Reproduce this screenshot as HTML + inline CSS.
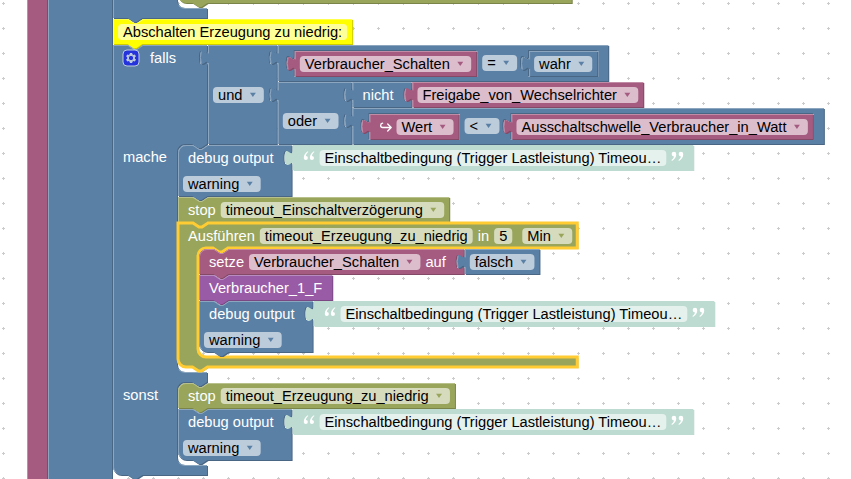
<!DOCTYPE html><html><head><meta charset="utf-8"><style>html,body{margin:0;padding:0;background:#fff;overflow:hidden}svg{display:block}</style></head><body>
<svg width="851" height="479" viewBox="0 0 851 479">
<defs><pattern id="grid" patternUnits="userSpaceOnUse" width="25" height="25" x="-9" y="-9"><line x1="11" y1="12.5" x2="14" y2="12.5" stroke="#ccc" stroke-width="1"/><line x1="12.5" y1="11" x2="12.5" y2="14" stroke="#ccc" stroke-width="1"/></pattern></defs>
<rect width="851" height="479" fill="#fff"/><rect width="851" height="479" fill="url(#grid)"/>
<rect x="27" y="-10" width="21" height="500" fill="#a55b80"/>
<rect x="47" y="-10" width="1" height="500" fill="#844966"/>
<rect x="27" y="-10" width="1" height="500" fill="#c08ca6"/>
<rect x="48" y="-10" width="65" height="500" fill="#5b80a5"/>
<rect x="112" y="-10" width="1" height="500" fill="#496684"/>
<rect x="48" y="-10" width="1" height="500" fill="#8ca6c0"/>
<g transform="translate(113,8)">
<path d="M0,-80 H64 V-8 a 8,8 0 0,0 8,8 H94 V10 H29.5 l -6,4 -3,0 -6,-4 H0 Z" fill="#496684" transform="translate(1,1)"/>
<path d="M0,-80 H64 V-8 a 8,8 0 0,0 8,8 H94 V10 H29.5 l -6,4 -3,0 -6,-4 H0 Z" fill="#5b80a5"/>
<path d="M 0.5,-80 V 9.5 M 65.99,-1.99 a 8.5,8.5 0 0,0 6.0104,2.4896 H 93.5" fill="none" stroke="#8ca6c0" stroke-linecap="round"/>
<g transform="translate(65,-5)">
<path d="M0,-60 H393.7 V0 H29.5 l -6,4 -3,0 -6,-4 H8 a 8,8 0 0,1 -8,-8 Z" fill="#7a8449" transform="translate(1,1)"/>
<path d="M0,-60 H393.7 V0 H29.5 l -6,4 -3,0 -6,-4 H8 a 8,8 0 0,1 -8,-8 Z" fill="#99a55b"/>
<path d="M 2.697,-2.697 A 7.5,7.5 0 0,1 0.5,-8 V -60" fill="none" stroke="#b8c08c" stroke-linecap="round"/>
</g>
<g transform="translate(0,11)">
<path d="m 0,0 H 15 l 6,4 3,0 6,-4 H 239.172 v 25 H 29.5 l -6,4 -3,0 -6,-4 H 0 z " fill="#cccc00" transform="translate(1,1)"/>
<path d="m 0,0 H 15 l 6,4 3,0 6,-4 H 239.172 v 25 H 29.5 l -6,4 -3,0 -6,-4 H 0 z " fill="#ffff00"/>
<path d="m 0.5,0.5 H 15 l 6,4 3,0 6,-4 H 238.672 M 238.672,0.5 M 0.5,24.5 V 0.5 " fill="none" stroke="#ffff4c" stroke-width="1" stroke-linecap="round"/>
<g transform="translate(10,5)"><rect x="-5" y="0" rx="4" ry="4" width="229.172" height="16" fill="#fff" fill-opacity="0.6"/><text x="0" y="0" transform="translate(0,12.5) scale(1,1)" fill="#000" style="font-family:'Liberation Sans',sans-serif;font-size:14.6667px">Abschalten Erzeugung zu niedrig:</text></g>
<g transform="translate(0,26)">
<path d="m 0,0 H 15 l 6,4 3,0 6,-4 H 94 v 5 c 0,10 -8,-8 -8,7.5 s 8,-2.5 8,7.5 v 79 H 94 l -6,4 -3,0 -6,-4 h -7 a 8,8 0 0,0 -8,8 v 212 a 8,8 0 0,0 8,8 H 94 v 10 H 94 l -6,4 -3,0 -6,-4 h -7 a 8,8 0 0,0 -8,8 v 67 a 8,8 0 0,0 8,8 H 94 v 10 H 29.5 l -6,4 -3,0 -6,-4 H 8 a 8,8 0 0,1 -8,-8 z " fill="#496684" transform="translate(1,1)"/>
<path d="m 0,0 H 15 l 6,4 3,0 6,-4 H 94 v 5 c 0,10 -8,-8 -8,7.5 s 8,-2.5 8,7.5 v 79 H 94 l -6,4 -3,0 -6,-4 h -7 a 8,8 0 0,0 -8,8 v 212 a 8,8 0 0,0 8,8 H 94 v 10 H 94 l -6,4 -3,0 -6,-4 h -7 a 8,8 0 0,0 -8,8 v 67 a 8,8 0 0,0 8,8 H 94 v 10 H 29.5 l -6,4 -3,0 -6,-4 H 8 a 8,8 0 0,1 -8,-8 z " fill="#5b80a5"/>
<path d="m 0.5,0.5 H 15 l 6,4 3,0 6,-4 H 93.5 M 93.5,0.5 M 89,19.3 l 3.68,-2.1 M 93.5,99.5 M 65.99,325.01 a 8.5,8.5 0 0,0 6.0104,2.4896 H 93.5 M 93.5,337.5 M 65.99,418.01 a 8.5,8.5 0 0,0 6.0104,2.4896 H 93.5 M 2.697,427.303 A 7.5,7.5 0 0,1 0.5,422 V 0.5 " fill="none" stroke="#8ca6c0" stroke-width="1" stroke-linecap="round"/>
<g transform="translate(10,5)" opacity="0.6"><rect rx="4" ry="4" width="16" height="16" fill="#00f" stroke="#fff" stroke-width="1"/><path fill="#fff" d="m4.203,7.296 0,1.368 -0.92,0.677 -0.11,0.41 0.9,1.559 0.41,0.11 1.043,-0.457 1.187,0.683 0.127,1.134 0.3,0.3 1.8,0 0.3,-0.299 0.127,-1.138 1.185,-0.682 1.046,0.458 0.409,-0.11 0.9,-1.559 -0.11,-0.41 -0.92,-0.677 0,-1.366 0.92,-0.677 0.11,-0.41 -0.9,-1.559 -0.409,-0.109 -1.046,0.458 -1.185,-0.682 -0.127,-1.138 -0.3,-0.299 -1.8,0 -0.3,0.3 -0.126,1.135 -1.187,0.682 -1.043,-0.457 -0.41,0.11 -0.899,1.559 0.108,0.409z"/><circle r="2.7" cx="8" cy="8" fill="#00f" stroke="#fff" stroke-width="1"/></g>
<g transform="translate(37,5)"><text x="0" y="0" transform="translate(0,12.5) scale(1,1)" fill="#fff" style="font-family:'Liberation Sans',sans-serif;font-size:14.6667px">falls</text></g>
<g transform="translate(10,104)"><text x="0" y="0" transform="translate(0,12.5) scale(1,1)" fill="#fff" style="font-family:'Liberation Sans',sans-serif;font-size:14.6667px">mache</text></g>
<g transform="translate(10,342)"><text x="0" y="0" transform="translate(0,12.5) scale(1,1)" fill="#fff" style="font-family:'Liberation Sans',sans-serif;font-size:14.6667px">sonst</text></g>
<g transform="translate(95,0)">
<path d="m 0,0 H 68.819 v 5 c 0,10 -8,-8 -8,7.5 s 8,-2.5 8,7.5 v 17 v 5 c 0,10 -8,-8 -8,7.5 s 8,-2.5 8,7.5 v 42 H 0 V 20 c 0,-10 -8,8 -8,-7.5 s 8,2.5 8,-7.5 z " fill="#496684" transform="translate(1,1)"/>
<path d="m 0,0 H 68.819 v 5 c 0,10 -8,-8 -8,7.5 s 8,-2.5 8,7.5 v 17 v 5 c 0,10 -8,-8 -8,7.5 s 8,-2.5 8,7.5 v 42 H 0 V 20 c 0,-10 -8,8 -8,-7.5 s 8,2.5 8,-7.5 z " fill="#5b80a5"/>
<path d="m 0.5,0.5 H 68.319 M 68.319,0.5 M 63.819,19.3 l 3.68,-2.1 M 68.319,37.5 M 63.819,56.3 l 3.68,-2.1 M 0.5,98.5 V 18.5 m -7.36,-0.5 q -1.52,-5.5 0,-11 m 7.36,1 V 0.5 H 1 " fill="none" stroke="#8ca6c0" stroke-width="1" stroke-linecap="round"/>
<g transform="translate(10,42)"><rect x="-5" y="0" rx="4" ry="4" width="50.819" height="16" fill="#fff" fill-opacity="0.6"/><text x="0" y="0" transform="translate(0,12.5) scale(1,1)" fill="#000" style="font-family:'Liberation Sans',sans-serif;font-size:14.6667px">und</text><path d="M31.947,5.8 h5.9 l-2.95,4.3 z" fill="#5b80a5"/></g>
<g transform="translate(69.819,0)">
<path d="m 0,0 H 20 H 330.425 v 36 H 0 V 20 c 0,-10 -8,8 -8,-7.5 s 8,2.5 8,-7.5 z M 199.381,5 h -183.381 v 5 c 0,10 -8,-8 -8,7.5 s 8,-2.5 8,7.5 v 7 h 183.381 z M 320.425,5 h -70.131 v 5 c 0,10 -8,-8 -8,7.5 s 8,-2.5 8,7.5 v 7 h 70.131 z" fill="#496684" transform="translate(1,1)"/>
<path d="m 0,0 H 20 H 330.425 v 36 H 0 V 20 c 0,-10 -8,8 -8,-7.5 s 8,2.5 8,-7.5 z M 199.381,5 h -183.381 v 5 c 0,10 -8,-8 -8,7.5 s 8,-2.5 8,7.5 v 7 h 183.381 z M 320.425,5 h -70.131 v 5 c 0,10 -8,-8 -8,7.5 s 8,-2.5 8,7.5 v 7 h 70.131 z" fill="#5b80a5"/>
<path d="m 0.5,0.5 H 19.5 M 19.5,0.5 H 329.925 M 0.5,35.5 V 18.5 m -7.36,-0.5 q -1.52,-5.5 0,-11 m 7.36,1 V 0.5 H 1 M 198.881,6 V 31.5 H 16.5 M 319.925,6 V 31.5 H 250.794" fill="none" stroke="#8ca6c0" stroke-width="1" stroke-linecap="round"/>
<g transform="translate(209.381,10)"><rect x="-5" y="0" rx="4" ry="4" width="34.913" height="16" fill="#fff" fill-opacity="0.6"/><text x="0" y="0" transform="translate(0,12.5) scale(1,1)" fill="#000" style="font-family:'Liberation Sans',sans-serif;font-size:14.6667px">=</text><path d="M16.041,5.8 h5.9 l-2.95,4.3 z" fill="#5b80a5"/></g>
<g transform="translate(17,6)">
<path d="m 0,0 H 181.381 v 25 H 0 V 20 c 0,-10 -8,8 -8,-7.5 s 8,2.5 8,-7.5 z " fill="#844966" transform="translate(1,1)"/>
<path d="m 0,0 H 181.381 v 25 H 0 V 20 c 0,-10 -8,8 -8,-7.5 s 8,2.5 8,-7.5 z " fill="#a55b80"/>
<path d="m 0.5,0.5 H 180.881 M 180.881,0.5 M 0.5,24.5 V 18.5 m -7.36,-0.5 q -1.52,-5.5 0,-11 m 7.36,1 V 0.5 H 1 " fill="none" stroke="#c08ca6" stroke-width="1" stroke-linecap="round"/>
<g transform="translate(10,5)"><rect x="-5" y="0" rx="4" ry="4" width="171.381" height="16" fill="#fff" fill-opacity="0.6"/><text x="0" y="0" transform="translate(0,12.5) scale(1,1)" fill="#000" style="font-family:'Liberation Sans',sans-serif;font-size:14.6667px">Verbraucher_Schalten</text><path d="M152.509,5.8 h5.9 l-2.95,4.3 z" fill="#a55b80"/></g>
</g>
<g transform="translate(251.294,6)">
<path d="m 0,0 H 68.131 v 25 H 0 V 20 c 0,-10 -8,8 -8,-7.5 s 8,2.5 8,-7.5 z " fill="#496684" transform="translate(1,1)"/>
<path d="m 0,0 H 68.131 v 25 H 0 V 20 c 0,-10 -8,8 -8,-7.5 s 8,2.5 8,-7.5 z " fill="#5b80a5"/>
<path d="m 0.5,0.5 H 67.631 M 67.631,0.5 M 0.5,24.5 V 18.5 m -7.36,-0.5 q -1.52,-5.5 0,-11 m 7.36,1 V 0.5 H 1 " fill="none" stroke="#8ca6c0" stroke-width="1" stroke-linecap="round"/>
<g transform="translate(10,5)"><rect x="-5" y="0" rx="4" ry="4" width="58.131" height="16" fill="#fff" fill-opacity="0.6"/><text x="0" y="0" transform="translate(0,12.5) scale(1,1)" fill="#000" style="font-family:'Liberation Sans',sans-serif;font-size:14.6667px">wahr</text><path d="M39.259,5.8 h5.9 l-2.95,4.3 z" fill="#5b80a5"/></g>
</g>
</g>
<g transform="translate(69.819,37)">
<path d="m 0,0 H 73.694 v 5 c 0,10 -8,-8 -8,7.5 s 8,-2.5 8,7.5 v 6 v 5 c 0,10 -8,-8 -8,7.5 s 8,-2.5 8,7.5 v 16 H 0 V 20 c 0,-10 -8,8 -8,-7.5 s 8,2.5 8,-7.5 z " fill="#496684" transform="translate(1,1)"/>
<path d="m 0,0 H 73.694 v 5 c 0,10 -8,-8 -8,7.5 s 8,-2.5 8,7.5 v 6 v 5 c 0,10 -8,-8 -8,7.5 s 8,-2.5 8,7.5 v 16 H 0 V 20 c 0,-10 -8,8 -8,-7.5 s 8,2.5 8,-7.5 z " fill="#5b80a5"/>
<path d="m 0.5,0.5 H 73.194 M 73.194,0.5 M 68.694,19.3 l 3.68,-2.1 M 73.194,26.5 M 68.694,45.3 l 3.68,-2.1 M 0.5,61.5 V 18.5 m -7.36,-0.5 q -1.52,-5.5 0,-11 m 7.36,1 V 0.5 H 1 " fill="none" stroke="#8ca6c0" stroke-width="1" stroke-linecap="round"/>
<g transform="translate(10,31)"><rect x="-5" y="0" rx="4" ry="4" width="55.694" height="16" fill="#fff" fill-opacity="0.6"/><text x="0" y="0" transform="translate(0,12.5) scale(1,1)" fill="#000" style="font-family:'Liberation Sans',sans-serif;font-size:14.6667px">oder</text><path d="M36.822,5.8 h5.9 l-2.95,4.3 z" fill="#5b80a5"/></g>
<g transform="translate(74.694,0)">
<path d="m 0,0 H 58.969 v 5 c 0,10 -8,-8 -8,7.5 s 8,-2.5 8,7.5 v 5 H 0 V 20 c 0,-10 -8,8 -8,-7.5 s 8,2.5 8,-7.5 z " fill="#496684" transform="translate(1,1)"/>
<path d="m 0,0 H 58.969 v 5 c 0,10 -8,-8 -8,7.5 s 8,-2.5 8,7.5 v 5 H 0 V 20 c 0,-10 -8,8 -8,-7.5 s 8,2.5 8,-7.5 z " fill="#5b80a5"/>
<path d="m 0.5,0.5 H 58.469 M 58.469,0.5 M 53.969,19.3 l 3.68,-2.1 M 0.5,24.5 V 18.5 m -7.36,-0.5 q -1.52,-5.5 0,-11 m 7.36,1 V 0.5 H 1 " fill="none" stroke="#8ca6c0" stroke-width="1" stroke-linecap="round"/>
<g transform="translate(10,5)"><text x="0" y="0" transform="translate(0,12.5) scale(1,1)" fill="#fff" style="font-family:'Liberation Sans',sans-serif;font-size:14.6667px">nicht</text></g>
<g transform="translate(59.969,0)">
<path d="m 0,0 H 230.787 v 25 H 0 V 20 c 0,-10 -8,8 -8,-7.5 s 8,2.5 8,-7.5 z " fill="#844966" transform="translate(1,1)"/>
<path d="m 0,0 H 230.787 v 25 H 0 V 20 c 0,-10 -8,8 -8,-7.5 s 8,2.5 8,-7.5 z " fill="#a55b80"/>
<path d="m 0.5,0.5 H 230.287 M 230.287,0.5 M 0.5,24.5 V 18.5 m -7.36,-0.5 q -1.52,-5.5 0,-11 m 7.36,1 V 0.5 H 1 " fill="none" stroke="#c08ca6" stroke-width="1" stroke-linecap="round"/>
<g transform="translate(10,5)"><rect x="-5" y="0" rx="4" ry="4" width="220.787" height="16" fill="#fff" fill-opacity="0.6"/><text x="0" y="0" transform="translate(0,12.5) scale(1,1)" fill="#000" style="font-family:'Liberation Sans',sans-serif;font-size:14.6667px">Freigabe_von_Wechselrichter</text><path d="M201.916,5.8 h5.9 l-2.95,4.3 z" fill="#a55b80"/></g>
</g>
</g>
<g transform="translate(74.694,26)">
<path d="m 0,0 H 20 H 471.347 v 36 H 0 V 20 c 0,-10 -8,8 -8,-7.5 s 8,2.5 8,-7.5 z M 107.037,5 h -91.037 v 5 c 0,10 -8,-8 -8,7.5 s 8,-2.5 8,7.5 v 7 h 91.037 z M 461.347,5 h -303.397 v 5 c 0,10 -8,-8 -8,7.5 s 8,-2.5 8,7.5 v 7 h 303.397 z" fill="#496684" transform="translate(1,1)"/>
<path d="m 0,0 H 20 H 471.347 v 36 H 0 V 20 c 0,-10 -8,8 -8,-7.5 s 8,2.5 8,-7.5 z M 107.037,5 h -91.037 v 5 c 0,10 -8,-8 -8,7.5 s 8,-2.5 8,7.5 v 7 h 91.037 z M 461.347,5 h -303.397 v 5 c 0,10 -8,-8 -8,7.5 s 8,-2.5 8,7.5 v 7 h 303.397 z" fill="#5b80a5"/>
<path d="m 0.5,0.5 H 19.5 M 19.5,0.5 H 470.847 M 0.5,35.5 V 18.5 m -7.36,-0.5 q -1.52,-5.5 0,-11 m 7.36,1 V 0.5 H 1 M 106.537,6 V 31.5 H 16.5 M 460.847,6 V 31.5 H 158.45" fill="none" stroke="#8ca6c0" stroke-width="1" stroke-linecap="round"/>
<g transform="translate(117.037,10)"><rect x="-5" y="0" rx="4" ry="4" width="34.913" height="16" fill="#fff" fill-opacity="0.6"/><text x="0" y="0" transform="translate(0,12.5) scale(1,1)" fill="#000" style="font-family:'Liberation Sans',sans-serif;font-size:14.6667px">&lt;</text><path d="M16.041,5.8 h5.9 l-2.95,4.3 z" fill="#5b80a5"/></g>
<g transform="translate(17,6)">
<path d="m 0,0 H 89.037 v 25 H 0 V 20 c 0,-10 -8,8 -8,-7.5 s 8,2.5 8,-7.5 z " fill="#844966" transform="translate(1,1)"/>
<path d="m 0,0 H 89.037 v 25 H 0 V 20 c 0,-10 -8,8 -8,-7.5 s 8,2.5 8,-7.5 z " fill="#a55b80"/>
<path d="m 0.5,0.5 H 88.537 M 88.537,0.5 M 0.5,24.5 V 18.5 m -7.36,-0.5 q -1.52,-5.5 0,-11 m 7.36,1 V 0.5 H 1 " fill="none" stroke="#c08ca6" stroke-width="1" stroke-linecap="round"/>
<g transform="translate(10,5)"><path d="M3.1,4.2 C0.5,4.5 0.5,8.5 3.1,8.5 H11.6 M8.2,5 L11.7,8.5 L8.2,12" fill="none" stroke="#fff" stroke-width="1.3" stroke-linecap="round" stroke-linejoin="round"/></g>
<g transform="translate(32,5)"><rect x="-5" y="0" rx="4" ry="4" width="57.038" height="16" fill="#fff" fill-opacity="0.6"/><text x="0" y="0" transform="translate(0,12.5) scale(1,1)" fill="#000" style="font-family:'Liberation Sans',sans-serif;font-size:14.6667px">Wert</text><path d="M38.166,5.8 h5.9 l-2.95,4.3 z" fill="#a55b80"/></g>
</g>
<g transform="translate(158.95,6)">
<path d="m 0,0 H 301.397 v 25 H 0 V 20 c 0,-10 -8,8 -8,-7.5 s 8,2.5 8,-7.5 z " fill="#844966" transform="translate(1,1)"/>
<path d="m 0,0 H 301.397 v 25 H 0 V 20 c 0,-10 -8,8 -8,-7.5 s 8,2.5 8,-7.5 z " fill="#a55b80"/>
<path d="m 0.5,0.5 H 300.897 M 300.897,0.5 M 0.5,24.5 V 18.5 m -7.36,-0.5 q -1.52,-5.5 0,-11 m 7.36,1 V 0.5 H 1 " fill="none" stroke="#c08ca6" stroke-width="1" stroke-linecap="round"/>
<g transform="translate(10,5)"><rect x="-5" y="0" rx="4" ry="4" width="291.397" height="16" fill="#fff" fill-opacity="0.6"/><text x="0" y="0" transform="translate(0,12.5) scale(1,1)" fill="#000" style="font-family:'Liberation Sans',sans-serif;font-size:14.6667px">Ausschaltschwelle_Verbraucher_in_Watt</text><path d="M272.525,5.8 h5.9 l-2.95,4.3 z" fill="#a55b80"/></g>
</g>
</g>
</g>
</g>
<g transform="translate(65,100)">
<path d="m 0,8 A 8,8 0 0,1 8,0 H 15 l 6,4 3,0 6,-4 H 113.578 v 5 c 0,10 -8,-8 -8,7.5 s 8,-2.5 8,7.5 v 6 v 25 H 29.5 l -6,4 -3,0 -6,-4 H 0 z " fill="#496684" transform="translate(1,1)"/>
<path d="m 0,8 A 8,8 0 0,1 8,0 H 15 l 6,4 3,0 6,-4 H 113.578 v 5 c 0,10 -8,-8 -8,7.5 s 8,-2.5 8,7.5 v 6 v 25 H 29.5 l -6,4 -3,0 -6,-4 H 0 z " fill="#5b80a5"/>
<path d="m 0.5,7.5 A 7.5,7.5 0 0,1 8,0.5 H 15 l 6,4 3,0 6,-4 H 113.078 M 113.078,0.5 M 108.578,19.3 l 3.68,-2.1 M 113.078,26.5 M 0.5,50.5 V 8 " fill="none" stroke="#8ca6c0" stroke-width="1" stroke-linecap="round"/>
<g transform="translate(10,5)"><text x="0" y="0" transform="translate(0,12.5) scale(1,1)" fill="#fff" style="font-family:'Liberation Sans',sans-serif;font-size:14.6667px">debug output</text></g>
<g transform="translate(10,31)"><rect x="-5" y="0" rx="4" ry="4" width="77.678" height="16" fill="#fff" fill-opacity="0.6"/><text x="0" y="0" transform="translate(0,12.5) scale(1,1)" fill="#000" style="font-family:'Liberation Sans',sans-serif;font-size:14.6667px">warning</text><path d="M58.806,5.8 h5.9 l-2.95,4.3 z" fill="#5b80a5"/></g>
<g transform="translate(114.578,0)">
<path d="m 0,0 H 400.734 v 25 H 0 V 20 c 0,-10 -8,8 -8,-7.5 s 8,2.5 8,-7.5 z " fill="#bddbd1" transform="translate(1,1)"/>
<path d="m 0,0 H 400.734 v 25 H 0 V 20 c 0,-10 -8,8 -8,-7.5 s 8,2.5 8,-7.5 z " fill="#bddbd1"/>
<g transform="translate(10,5)"><path d="M1.2,8.05 C1.2,5.0 2.9,2.6 5.3,1.3 L5.75,2.1 C4.35,3.1 3.5,4.3 3.3,6 A2.05,2.05 0 1,1 1.2,8.05 Z" fill="#fff"/><path d="M1.2,8.05 C1.2,5.0 2.9,2.6 5.3,1.3 L5.75,2.1 C4.35,3.1 3.5,4.3 3.3,6 A2.05,2.05 0 1,1 1.2,8.05 Z" fill="#fff" transform="translate(6.1,0)"/></g>
<g transform="translate(32,5)"><rect x="-5" y="0" rx="4" ry="4" width="346.734" height="16" fill="#fff" fill-opacity="0.6"/><text x="0" y="0" transform="translate(0,12.5) scale(1,1)" fill="#000" style="font-family:'Liberation Sans',sans-serif;font-size:14.6667px">Einschaltbedingung (Trigger Lastleistung) Timeou…</text></g>
<g transform="translate(378.734,5)"><path d="M0.95,8.05 C0.95,5.0 2.9,2.6 5.3,1.3 L5.75,2.1 C4.35,3.1 3.5,4.3 3.3,5.75 A2.3,2.3 0 1,1 0.95,8.05 Z" fill="#fff" transform="rotate(180 2.95 6.1)"/><path d="M0.95,8.05 C0.95,5.0 2.9,2.6 5.3,1.3 L5.75,2.1 C4.35,3.1 3.5,4.3 3.3,5.75 A2.3,2.3 0 1,1 0.95,8.05 Z" fill="#fff" transform="rotate(180 6.45 6.1)"/></g>
</g>
<g transform="translate(0,52)">
<path d="m 0,0 H 15 l 6,4 3,0 6,-4 H 271.225 v 25 H 29.5 l -6,4 -3,0 -6,-4 H 0 z " fill="#7a8449" transform="translate(1,1)"/>
<path d="m 0,0 H 15 l 6,4 3,0 6,-4 H 271.225 v 25 H 29.5 l -6,4 -3,0 -6,-4 H 0 z " fill="#99a55b"/>
<path d="m 0.5,0.5 H 15 l 6,4 3,0 6,-4 H 270.725 M 270.725,0.5 M 0.5,24.5 V 0.5 " fill="none" stroke="#b8c08c" stroke-width="1" stroke-linecap="round"/>
<g transform="translate(10,5)"><text x="0" y="0" transform="translate(0,12.5) scale(1,1)" fill="#fff" style="font-family:'Liberation Sans',sans-serif;font-size:14.6667px">stop</text></g>
<g transform="translate(47.703,5)"><rect x="-5" y="0" rx="4" ry="4" width="223.522" height="16" fill="#fff" fill-opacity="0.6"/><text x="0" y="0" transform="translate(0,12.5) scale(1,1)" fill="#000" style="font-family:'Liberation Sans',sans-serif;font-size:14.6667px">timeout_Einschaltverzögerung</text><path d="M204.65,5.8 h5.9 l-2.95,4.3 z" fill="#99a55b"/></g>
<g transform="translate(0,26)">
<path d="m 0,0 H 15 l 6,4 3,0 6,-4 H 50 H 399.256 v 25 H 50 l -6,4 -3,0 -6,-4 h -7 a 8,8 0 0,0 -8,8 v 93 a 8,8 0 0,0 8,8 H 399.256 v 10 H 29.5 l -6,4 -3,0 -6,-4 H 8 a 8,8 0 0,1 -8,-8 z " fill="#7a8449" transform="translate(1,1)"/>
<path d="m 0,0 H 15 l 6,4 3,0 6,-4 H 50 H 399.256 v 25 H 50 l -6,4 -3,0 -6,-4 h -7 a 8,8 0 0,0 -8,8 v 93 a 8,8 0 0,0 8,8 H 399.256 v 10 H 29.5 l -6,4 -3,0 -6,-4 H 8 a 8,8 0 0,1 -8,-8 z " fill="#99a55b" stroke="#fc3" stroke-width="3"/>
<g transform="translate(10,5)"><text x="0" y="0" transform="translate(0,12.5) scale(1,1)" fill="#fff" style="font-family:'Liberation Sans',sans-serif;font-size:14.6667px">Ausführen</text></g>
<g transform="translate(86.812,5)"><rect x="-5" y="0" rx="4" ry="4" width="212.891" height="16" fill="#fff" fill-opacity="0.6"/><text x="0" y="0" transform="translate(0,12.5) scale(1,1)" fill="#000" style="font-family:'Liberation Sans',sans-serif;font-size:14.6667px">timeout_Erzeugung_zu_niedrig</text></g>
<g transform="translate(299.703,5)"><text x="0" y="0" transform="translate(0,12.5) scale(1,1)" fill="#fff" style="font-family:'Liberation Sans',sans-serif;font-size:14.6667px">in</text></g>
<g transform="translate(321.125,5)"><rect x="-5" y="0" rx="4" ry="4" width="18.156" height="16" fill="#fff" fill-opacity="0.6"/><text x="0" y="0" transform="translate(0,12.5) scale(1,1)" fill="#000" style="font-family:'Liberation Sans',sans-serif;font-size:14.6667px">5</text></g>
<g transform="translate(349.281,5)"><rect x="-5" y="0" rx="4" ry="4" width="49.975" height="16" fill="#fff" fill-opacity="0.6"/><text x="0" y="0" transform="translate(0,12.5) scale(1,1)" fill="#000" style="font-family:'Liberation Sans',sans-serif;font-size:14.6667px">Min</text><path d="M31.103,5.8 h5.9 l-2.95,4.3 z" fill="#99a55b"/></g>
<g transform="translate(21,26)">
<path d="m 0,8 A 8,8 0 0,1 8,0 H 15 l 6,4 3,0 6,-4 H 264.788 v 5 c 0,10 -8,-8 -8,7.5 s 8,-2.5 8,7.5 v 5 H 29.5 l -6,4 -3,0 -6,-4 H 0 z " fill="#844966" transform="translate(1,1)"/>
<path d="m 0,8 A 8,8 0 0,1 8,0 H 15 l 6,4 3,0 6,-4 H 264.788 v 5 c 0,10 -8,-8 -8,7.5 s 8,-2.5 8,7.5 v 5 H 29.5 l -6,4 -3,0 -6,-4 H 0 z " fill="#a55b80"/>
<path d="m 0.5,7.5 A 7.5,7.5 0 0,1 8,0.5 H 15 l 6,4 3,0 6,-4 H 264.288 M 264.288,0.5 M 259.788,19.3 l 3.68,-2.1 M 0.5,24.5 V 8 " fill="none" stroke="#c08ca6" stroke-width="1" stroke-linecap="round"/>
<g transform="translate(10,5)"><text x="0" y="0" transform="translate(0,12.5) scale(1,1)" fill="#fff" style="font-family:'Liberation Sans',sans-serif;font-size:14.6667px">setze</text></g>
<g transform="translate(55.031,5)"><rect x="-5" y="0" rx="4" ry="4" width="171.381" height="16" fill="#fff" fill-opacity="0.6"/><text x="0" y="0" transform="translate(0,12.5) scale(1,1)" fill="#000" style="font-family:'Liberation Sans',sans-serif;font-size:14.6667px">Verbraucher_Schalten</text><path d="M152.509,5.8 h5.9 l-2.95,4.3 z" fill="#a55b80"/></g>
<g transform="translate(226.412,5)"><text x="0" y="0" transform="translate(0,12.5) scale(1,1)" fill="#fff" style="font-family:'Liberation Sans',sans-serif;font-size:14.6667px">auf</text></g>
<g transform="translate(265.788,0)">
<path d="m 0,0 H 74.647 v 25 H 0 V 20 c 0,-10 -8,8 -8,-7.5 s 8,2.5 8,-7.5 z " fill="#496684" transform="translate(1,1)"/>
<path d="m 0,0 H 74.647 v 25 H 0 V 20 c 0,-10 -8,8 -8,-7.5 s 8,2.5 8,-7.5 z " fill="#5b80a5"/>
<path d="m 0.5,0.5 H 74.147 M 74.147,0.5 M 0.5,24.5 V 18.5 m -7.36,-0.5 q -1.52,-5.5 0,-11 m 7.36,1 V 0.5 H 1 " fill="none" stroke="#8ca6c0" stroke-width="1" stroke-linecap="round"/>
<g transform="translate(10,5)"><rect x="-5" y="0" rx="4" ry="4" width="64.647" height="16" fill="#fff" fill-opacity="0.6"/><text x="0" y="0" transform="translate(0,12.5) scale(1,1)" fill="#000" style="font-family:'Liberation Sans',sans-serif;font-size:14.6667px">falsch</text><path d="M45.775,5.8 h5.9 l-2.95,4.3 z" fill="#5b80a5"/></g>
</g>
<g transform="translate(0,26)">
<path d="m 0,0 H 15 l 6,4 3,0 6,-4 H 133.25 v 25 H 29.5 l -6,4 -3,0 -6,-4 H 0 z " fill="#7a4984" transform="translate(1,1)"/>
<path d="m 0,0 H 15 l 6,4 3,0 6,-4 H 133.25 v 25 H 29.5 l -6,4 -3,0 -6,-4 H 0 z " fill="#995ba5"/>
<path d="m 0.5,0.5 H 15 l 6,4 3,0 6,-4 H 132.75 M 132.75,0.5 M 0.5,24.5 V 0.5 " fill="none" stroke="#b88cc0" stroke-width="1" stroke-linecap="round"/>
<g transform="translate(10,5)"><text x="0" y="0" transform="translate(0,12.5) scale(1,1)" fill="#fff" style="font-family:'Liberation Sans',sans-serif;font-size:14.6667px">Verbraucher_1_F</text></g>
<g transform="translate(0,26)">
<path d="m 0,0 H 15 l 6,4 3,0 6,-4 H 113.578 v 5 c 0,10 -8,-8 -8,7.5 s 8,-2.5 8,7.5 v 6 v 25 H 29.5 l -6,4 -3,0 -6,-4 H 8 a 8,8 0 0,1 -8,-8 z " fill="#496684" transform="translate(1,1)"/>
<path d="m 0,0 H 15 l 6,4 3,0 6,-4 H 113.578 v 5 c 0,10 -8,-8 -8,7.5 s 8,-2.5 8,7.5 v 6 v 25 H 29.5 l -6,4 -3,0 -6,-4 H 8 a 8,8 0 0,1 -8,-8 z " fill="#5b80a5"/>
<path d="m 0.5,0.5 H 15 l 6,4 3,0 6,-4 H 113.078 M 113.078,0.5 M 108.578,19.3 l 3.68,-2.1 M 113.078,26.5 M 2.697,48.303 A 7.5,7.5 0 0,1 0.5,43 V 0.5 " fill="none" stroke="#8ca6c0" stroke-width="1" stroke-linecap="round"/>
<g transform="translate(10,5)"><text x="0" y="0" transform="translate(0,12.5) scale(1,1)" fill="#fff" style="font-family:'Liberation Sans',sans-serif;font-size:14.6667px">debug output</text></g>
<g transform="translate(10,31)"><rect x="-5" y="0" rx="4" ry="4" width="77.678" height="16" fill="#fff" fill-opacity="0.6"/><text x="0" y="0" transform="translate(0,12.5) scale(1,1)" fill="#000" style="font-family:'Liberation Sans',sans-serif;font-size:14.6667px">warning</text><path d="M58.806,5.8 h5.9 l-2.95,4.3 z" fill="#5b80a5"/></g>
<g transform="translate(114.578,0)">
<path d="m 0,0 H 400.734 v 25 H 0 V 20 c 0,-10 -8,8 -8,-7.5 s 8,2.5 8,-7.5 z " fill="#bddbd1" transform="translate(1,1)"/>
<path d="m 0,0 H 400.734 v 25 H 0 V 20 c 0,-10 -8,8 -8,-7.5 s 8,2.5 8,-7.5 z " fill="#bddbd1"/>
<g transform="translate(10,5)"><path d="M1.2,8.05 C1.2,5.0 2.9,2.6 5.3,1.3 L5.75,2.1 C4.35,3.1 3.5,4.3 3.3,6 A2.05,2.05 0 1,1 1.2,8.05 Z" fill="#fff"/><path d="M1.2,8.05 C1.2,5.0 2.9,2.6 5.3,1.3 L5.75,2.1 C4.35,3.1 3.5,4.3 3.3,6 A2.05,2.05 0 1,1 1.2,8.05 Z" fill="#fff" transform="translate(6.1,0)"/></g>
<g transform="translate(32,5)"><rect x="-5" y="0" rx="4" ry="4" width="346.734" height="16" fill="#fff" fill-opacity="0.6"/><text x="0" y="0" transform="translate(0,12.5) scale(1,1)" fill="#000" style="font-family:'Liberation Sans',sans-serif;font-size:14.6667px">Einschaltbedingung (Trigger Lastleistung) Timeou…</text></g>
<g transform="translate(378.734,5)"><path d="M0.95,8.05 C0.95,5.0 2.9,2.6 5.3,1.3 L5.75,2.1 C4.35,3.1 3.5,4.3 3.3,5.75 A2.3,2.3 0 1,1 0.95,8.05 Z" fill="#fff" transform="rotate(180 2.95 6.1)"/><path d="M0.95,8.05 C0.95,5.0 2.9,2.6 5.3,1.3 L5.75,2.1 C4.35,3.1 3.5,4.3 3.3,5.75 A2.3,2.3 0 1,1 0.95,8.05 Z" fill="#fff" transform="rotate(180 6.45 6.1)"/></g>
</g>
</g>
</g>
</g>
</g>
</g>
</g>
<g transform="translate(65,338)">
<path d="m 0,8 A 8,8 0 0,1 8,0 H 15 l 6,4 3,0 6,-4 H 276.944 v 25 H 29.5 l -6,4 -3,0 -6,-4 H 0 z " fill="#7a8449" transform="translate(1,1)"/>
<path d="m 0,8 A 8,8 0 0,1 8,0 H 15 l 6,4 3,0 6,-4 H 276.944 v 25 H 29.5 l -6,4 -3,0 -6,-4 H 0 z " fill="#99a55b"/>
<path d="m 0.5,7.5 A 7.5,7.5 0 0,1 8,0.5 H 15 l 6,4 3,0 6,-4 H 276.444 M 276.444,0.5 M 0.5,24.5 V 8 " fill="none" stroke="#b8c08c" stroke-width="1" stroke-linecap="round"/>
<g transform="translate(10,5)"><text x="0" y="0" transform="translate(0,12.5) scale(1,1)" fill="#fff" style="font-family:'Liberation Sans',sans-serif;font-size:14.6667px">stop</text></g>
<g transform="translate(47.703,5)"><rect x="-5" y="0" rx="4" ry="4" width="229.241" height="16" fill="#fff" fill-opacity="0.6"/><text x="0" y="0" transform="translate(0,12.5) scale(1,1)" fill="#000" style="font-family:'Liberation Sans',sans-serif;font-size:14.6667px">timeout_Erzeugung_zu_niedrig</text><path d="M210.369,5.8 h5.9 l-2.95,4.3 z" fill="#99a55b"/></g>
<g transform="translate(0,26)">
<path d="m 0,0 H 15 l 6,4 3,0 6,-4 H 113.578 v 5 c 0,10 -8,-8 -8,7.5 s 8,-2.5 8,7.5 v 6 v 25 H 29.5 l -6,4 -3,0 -6,-4 H 8 a 8,8 0 0,1 -8,-8 z " fill="#496684" transform="translate(1,1)"/>
<path d="m 0,0 H 15 l 6,4 3,0 6,-4 H 113.578 v 5 c 0,10 -8,-8 -8,7.5 s 8,-2.5 8,7.5 v 6 v 25 H 29.5 l -6,4 -3,0 -6,-4 H 8 a 8,8 0 0,1 -8,-8 z " fill="#5b80a5"/>
<path d="m 0.5,0.5 H 15 l 6,4 3,0 6,-4 H 113.078 M 113.078,0.5 M 108.578,19.3 l 3.68,-2.1 M 113.078,26.5 M 2.697,48.303 A 7.5,7.5 0 0,1 0.5,43 V 0.5 " fill="none" stroke="#8ca6c0" stroke-width="1" stroke-linecap="round"/>
<g transform="translate(10,5)"><text x="0" y="0" transform="translate(0,12.5) scale(1,1)" fill="#fff" style="font-family:'Liberation Sans',sans-serif;font-size:14.6667px">debug output</text></g>
<g transform="translate(10,31)"><rect x="-5" y="0" rx="4" ry="4" width="77.678" height="16" fill="#fff" fill-opacity="0.6"/><text x="0" y="0" transform="translate(0,12.5) scale(1,1)" fill="#000" style="font-family:'Liberation Sans',sans-serif;font-size:14.6667px">warning</text><path d="M58.806,5.8 h5.9 l-2.95,4.3 z" fill="#5b80a5"/></g>
<g transform="translate(114.578,0)">
<path d="m 0,0 H 400.734 v 25 H 0 V 20 c 0,-10 -8,8 -8,-7.5 s 8,2.5 8,-7.5 z " fill="#bddbd1" transform="translate(1,1)"/>
<path d="m 0,0 H 400.734 v 25 H 0 V 20 c 0,-10 -8,8 -8,-7.5 s 8,2.5 8,-7.5 z " fill="#bddbd1"/>
<g transform="translate(10,5)"><path d="M1.2,8.05 C1.2,5.0 2.9,2.6 5.3,1.3 L5.75,2.1 C4.35,3.1 3.5,4.3 3.3,6 A2.05,2.05 0 1,1 1.2,8.05 Z" fill="#fff"/><path d="M1.2,8.05 C1.2,5.0 2.9,2.6 5.3,1.3 L5.75,2.1 C4.35,3.1 3.5,4.3 3.3,6 A2.05,2.05 0 1,1 1.2,8.05 Z" fill="#fff" transform="translate(6.1,0)"/></g>
<g transform="translate(32,5)"><rect x="-5" y="0" rx="4" ry="4" width="346.734" height="16" fill="#fff" fill-opacity="0.6"/><text x="0" y="0" transform="translate(0,12.5) scale(1,1)" fill="#000" style="font-family:'Liberation Sans',sans-serif;font-size:14.6667px">Einschaltbedingung (Trigger Lastleistung) Timeou…</text></g>
<g transform="translate(378.734,5)"><path d="M0.95,8.05 C0.95,5.0 2.9,2.6 5.3,1.3 L5.75,2.1 C4.35,3.1 3.5,4.3 3.3,5.75 A2.3,2.3 0 1,1 0.95,8.05 Z" fill="#fff" transform="rotate(180 2.95 6.1)"/><path d="M0.95,8.05 C0.95,5.0 2.9,2.6 5.3,1.3 L5.75,2.1 C4.35,3.1 3.5,4.3 3.3,5.75 A2.3,2.3 0 1,1 0.95,8.05 Z" fill="#fff" transform="rotate(180 6.45 6.1)"/></g>
</g>
</g>
</g>
</g>
</g>
</g>
</svg></body></html>
